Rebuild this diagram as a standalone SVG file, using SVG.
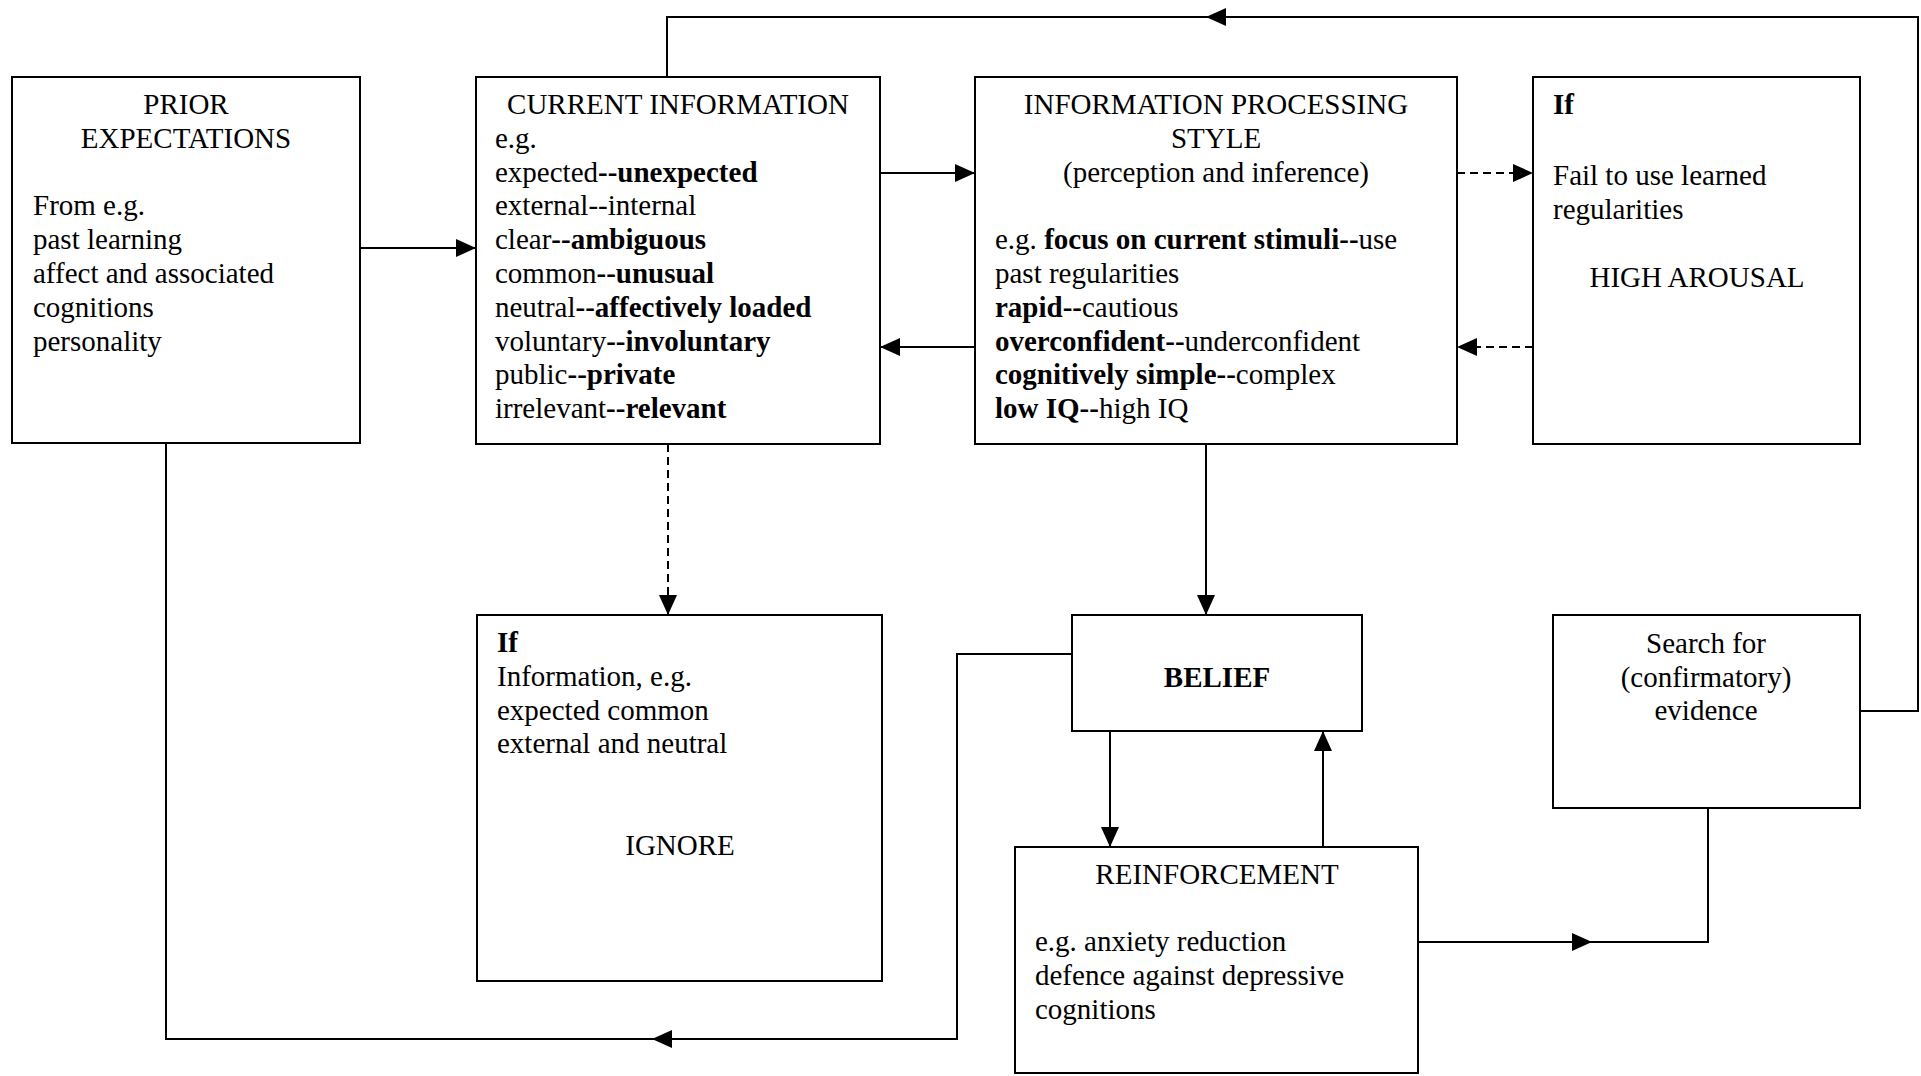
<svg xmlns="http://www.w3.org/2000/svg" width="1921" height="1076" viewBox="0 0 1921 1076">
<style>
.box{fill:#fff;stroke:#000;stroke-width:2}
.t{font-family:"Liberation Serif","Times New Roman",serif;font-size:29px;fill:#000}
.c{text-anchor:middle}
.b{font-weight:bold}
.ln{fill:none;stroke:#000;stroke-width:2}
.dash{stroke-dasharray:8 5}
.ah{fill:#000;stroke:none}
</style>
<defs>
<marker id="arr" markerUnits="userSpaceOnUse" markerWidth="20" markerHeight="18" refX="20" refY="9" orient="auto">
<path d="M0,0 L20,9 L0,18 Z" fill="#000"/>
</marker>
</defs>
<rect width="1921" height="1076" fill="#fff"/>

<g id="connectors">
<line class="ln" x1="360" y1="248" x2="476" y2="248" marker-end="url(#arr)"/>
<line class="ln" x1="880" y1="173" x2="975" y2="173" marker-end="url(#arr)"/>
<line class="ln" x1="975" y1="347" x2="880" y2="347" marker-end="url(#arr)"/>
<line class="ln dash" x1="1457" y1="173" x2="1533" y2="173" marker-end="url(#arr)"/>
<line class="ln dash" x1="1533" y1="347" x2="1457" y2="347" marker-end="url(#arr)"/>
<line class="ln dash" x1="668" y1="444" x2="668" y2="615" marker-end="url(#arr)"/>
<line class="ln" x1="1206" y1="444" x2="1206" y2="615" marker-end="url(#arr)"/>
<line class="ln" x1="1110" y1="731" x2="1110" y2="847" marker-end="url(#arr)"/>
<line class="ln" x1="1323" y1="847" x2="1323" y2="731" marker-end="url(#arr)"/>
<path class="ln" d="M1418,942 H1708 V808"/>
<polygon class="ah" points="1592,942 1572,933 1572,951"/>
<path class="ln" d="M1860,711 H1918 V17 H667 V77"/>
<polygon class="ah" points="1206,17 1226,8 1226,26"/>
<path class="ln" d="M1072,654 H957 V1039 H166 V443"/>
<polygon class="ah" points="652,1039 672,1030 672,1048"/>
</g>

<g id="prior">
<rect class="box" x="12" y="77" width="348" height="366"/>
<text class="t c" x="186" y="114">PRIOR</text>
<text class="t c" x="186" y="148">EXPECTATIONS</text>
<text class="t" x="33" y="215">From e.g.</text>
<text class="t" x="33" y="249">past learning</text>
<text class="t" x="33" y="283">affect and associated</text>
<text class="t" x="33" y="317">cognitions</text>
<text class="t" x="33" y="351">personality</text>
</g>

<g id="current">
<rect class="box" x="476" y="77" width="404" height="367"/>
<text class="t c" x="678" y="114">CURRENT INFORMATION</text>
<text class="t" x="495" y="148">e.g.</text>
<text class="t" x="495" y="182">expected<tspan class="b">--unexpected</tspan></text>
<text class="t" x="495" y="215">external--internal</text>
<text class="t" x="495" y="249">clear<tspan class="b">--ambiguous</tspan></text>
<text class="t" x="495" y="283">common<tspan class="b">--unusual</tspan></text>
<text class="t" x="495" y="317">neutral<tspan class="b">--affectively loaded</tspan></text>
<text class="t" x="495" y="351">voluntary<tspan class="b">--involuntary</tspan></text>
<text class="t" x="495" y="384">public<tspan class="b">--private</tspan></text>
<text class="t" x="495" y="418">irrelevant<tspan class="b">--relevant</tspan></text>
</g>

<g id="ips">
<rect class="box" x="975" y="77" width="482" height="367"/>
<text class="t c" x="1216" y="114">INFORMATION PROCESSING</text>
<text class="t c" x="1216" y="148">STYLE</text>
<text class="t c" x="1216" y="182">(perception and inference)</text>
<text class="t" x="995" y="249">e.g. <tspan class="b">focus on current stimuli--</tspan>use</text>
<text class="t" x="995" y="283">past regularities</text>
<text class="t" x="995" y="317"><tspan class="b">rapid--</tspan>cautious</text>
<text class="t" x="995" y="351"><tspan class="b">overconfident--</tspan>underconfident</text>
<text class="t" x="995" y="384"><tspan class="b">cognitively simple--</tspan>complex</text>
<text class="t" x="995" y="418"><tspan class="b">low IQ--</tspan>high IQ</text>
</g>

<g id="arousal">
<rect class="box" x="1533" y="77" width="327" height="367"/>
<text class="t b" x="1553" y="114">If</text>
<text class="t" x="1553" y="185">Fail to use learned</text>
<text class="t" x="1553" y="219">regularities</text>
<text class="t c" x="1697" y="287">HIGH AROUSAL</text>
</g>

<g id="ignore">
<rect class="box" x="477" y="615" width="405" height="366"/>
<text class="t b" x="497" y="652">If</text>
<text class="t" x="497" y="686">Information, e.g.</text>
<text class="t" x="497" y="720">expected common</text>
<text class="t" x="497" y="753">external and neutral</text>
<text class="t c" x="680" y="855">IGNORE</text>
</g>

<g id="belief">
<rect class="box" x="1072" y="615" width="290" height="116"/>
<text class="t c b" x="1217" y="687">BELIEF</text>
</g>

<g id="reinforcement">
<rect class="box" x="1015" y="847" width="403" height="226"/>
<text class="t c" x="1217" y="884">REINFORCEMENT</text>
<text class="t" x="1035" y="951">e.g. anxiety reduction</text>
<text class="t" x="1035" y="985">defence against depressive</text>
<text class="t" x="1035" y="1019">cognitions</text>
</g>

<g id="search">
<rect class="box" x="1553" y="615" width="307" height="193"/>
<text class="t c" x="1706" y="653">Search for</text>
<text class="t c" x="1706" y="687">(confirmatory)</text>
<text class="t c" x="1706" y="720">evidence</text>
</g>
</svg>
